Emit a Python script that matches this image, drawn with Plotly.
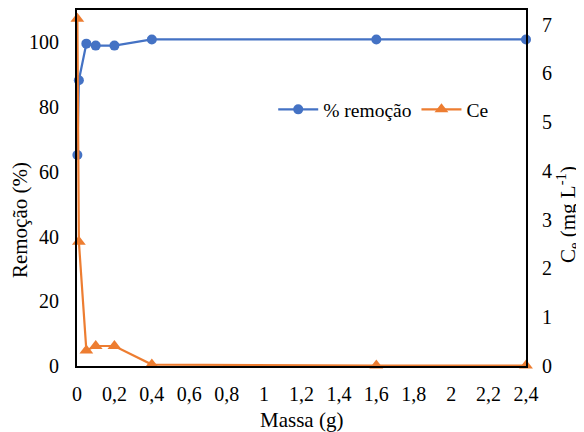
import plotly.graph_objects as go

massa = [0.002, 0.01, 0.05, 0.1, 0.2, 0.4, 1.6, 2.4]
remocao = [65.2, 88.3, 99.6, 99.0, 99.0, 100.9, 100.9, 100.9]
ce = [7.12, 2.55, 0.32, 0.41, 0.41, 0.03, 0.01, 0.01]

x_tickvals = [0, 0.2, 0.4, 0.6, 0.8, 1, 1.2, 1.4, 1.6, 1.8, 2, 2.2, 2.4]
x_ticktext = ["0", "0,2", "0,4", "0,6", "0,8", "1", "1,2", "1,4", "1,6", "1,8", "2", "2,2", "2,4"]
y1_tickvals = [0, 20, 40, 60, 80, 100]
y2_tickvals = [0, 1, 2, 3, 4, 5, 6, 7]

x_title = "Massa (g)"
y1_title = "Remoção (%)"
y2_title = "C<sub>e</sub> (mg L<sup>-1</sup>)"

blue = "#4472C4"
orange = "#ED7D31"
font = "Times New Roman, Liberation Serif, DejaVu Serif, serif"

fig = go.Figure()
fig.add_trace(go.Scatter(
    x=massa, y=remocao, name="% remoção", mode="lines+markers",
    line=dict(color=blue, width=2.2),
    marker=dict(symbol="circle", size=10, color=blue),
    yaxis="y", cliponaxis=False,
))
fig.add_trace(go.Scatter(
    x=massa, y=ce, name="Ce", mode="lines+markers",
    line=dict(color=orange, width=2.2),
    marker=dict(symbol="triangle-up", size=12, color=orange),
    yaxis="y2", cliponaxis=False,
))

tick_font = dict(family=font, size=20, color="black")
title_font = dict(family=font, size=21, color="black")

fig.update_layout(
    width=576, height=424,
    margin=dict(l=69, r=58, t=2, b=66, autoexpand=False),
    paper_bgcolor="white", plot_bgcolor="white",
    font=dict(family=font, size=19, color="black"),
    showlegend=True,
    legend=dict(
        orientation="h", x=0.437, y=0.72, xanchor="left", yanchor="middle",
        bgcolor="rgba(0,0,0,0)", font=dict(size=19.5, family=font),
        itemwidth=40, tracegroupgap=0,
    ),
    xaxis=dict(
        range=[0, 2.4], tickvals=x_tickvals, ticktext=x_ticktext,
        tickfont=tick_font, ticklabelstandoff=9,
        showgrid=False, zeroline=False, automargin=False,
        showline=True, linecolor="black", linewidth=2, mirror=True,
        ticks="",
    ),
    yaxis=dict(
        range=[0, 110], tickvals=y1_tickvals,
        tickfont=tick_font, ticklabelstandoff=12,
        showgrid=False, zeroline=False, automargin=False,
        showline=True, linecolor="black", linewidth=2,
        ticks="",
    ),
    yaxis2=dict(
        range=[0, 7.3], tickvals=y2_tickvals, overlaying="y", side="right",
        tickfont=tick_font, ticklabelstandoff=10,
        showgrid=False, zeroline=False, automargin=False,
        showline=True, linecolor="black", linewidth=2,
        ticks="",
    ),
    annotations=[
        dict(text=x_title, xref="paper", yref="paper", x=0.5, y=-0.152,
             xanchor="center", yanchor="middle", showarrow=False, font=title_font),
        dict(text=y1_title, xref="paper", yref="paper", x=(12 - 69) / 449, y=0.41,
             xanchor="center", yanchor="middle", showarrow=False, textangle=-90,
             font=title_font),
        dict(text=y2_title, xref="paper", yref="paper", x=(559 - 69) / 449, y=0.424,
             xanchor="center", yanchor="middle", showarrow=False, textangle=-90,
             font=title_font),
    ],
)

fig.write_html("out.html")
